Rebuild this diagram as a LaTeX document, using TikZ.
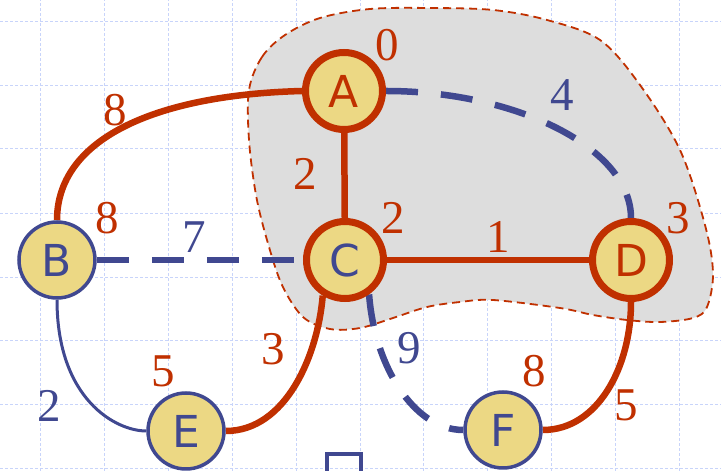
\documentclass[tikz,border=0pt]{standalone}
\usepackage{fontspec}
\newfontfamily\letfont{DejaVu Sans}
\newfontfamily\numfont{Liberation Serif}
\definecolor{dred}{RGB}{192,48,0}
\definecolor{dblue}{RGB}{64,72,144}
\definecolor{nfill}{RGB}{236,216,132}
\definecolor{cloudgray}{RGB}{221,221,221}
\definecolor{gridblue}{RGB}{200,212,250}
\pgfdeclarelayer{bg}
\pgfdeclarelayer{edgelayer}
\pgfsetlayers{bg,edgelayer,main}
\tikzset{
  rnode/.style={circle, draw=dred, line width=7pt, fill=nfill, minimum size=77pt, inner sep=0pt, font=\letfont\fontsize{44}{44}\selectfont},
  bnode/.style={circle, draw=dblue, line width=3.5pt, fill=nfill, minimum size=76pt, inner sep=0pt, text=dblue, font=\letfont\fontsize{44}{44}\selectfont},
  lbl/.style={inner sep=0pt, font=\numfont\fontsize{47}{47}\selectfont},
  rl/.style={lbl, text=dred},
  bl/.style={lbl, text=dblue},
  redge/.style={draw=dred, line width=6.5pt},
  bdash/.style={draw=dblue, line width=6.5pt, dash pattern=on 32pt off 23pt},
  bthin/.style={draw=dblue, line width=3pt},
  gridline/.style={draw=gridblue, line width=0.8pt, dash pattern=on 3pt off 2pt},
  cloud/.style={fill=cloudgray, draw=dred, line width=1.8pt, dash pattern=on 8pt off 5pt}
}
\begin{document}
\begin{tikzpicture}[x=1pt,y=1pt]
\useasboundingbox (0,0) rectangle (721,471);
% nodes
\node[rnode, text=dred] (A) at (344,380) {A};
\node[bnode] (B) at (57,211) {B};
\node[rnode, text=dblue] (C) at (345,211) {C};
\node[rnode, text=dred] (D) at (631,211) {D};
\node[bnode] (E) at (186,40) {E};
\node[bnode] (F) at (503,41) {F};
% labels
\node[rl] (lAB) at (115,361) {8};
\node[rl] (lAC) at (305,297) {2};
\node[rl] (dB) at (107,253) {8};
\node[bl] (lBC) at (194,234) {7};
\node[rl] (dA) at (387,426) {0};
\node[bl] (lAD) at (562,376) {4};
\node[rl] (dC) at (393,253) {2};
\node[rl] (lCD) at (498,234) {1};
\node[rl] (dD) at (678,253) {3};
\node[rl] (lCE) at (273,122) {3};
\node[rl] (dE) at (163,100) {5};
\node[bl] (lBE) at (49,65) {2};
\node[bl] (lCF) at (409,123) {9};
\node[rl] (dF) at (534,100) {8};
\node[rl] (lDF) at (626,66) {5};
\begin{pgfonlayer}{bg}
  \foreach \gx in {40,104,168,232,296,360,423,487,551,615,679}
    \draw[gridline] (\gx,0) -- (\gx,471);
  \foreach \gy in {3,67,131,194,258,323,386,450}
    \draw[gridline] (0,\gy) -- (721,\gy);
  \draw[cloud] plot[smooth cycle, tension=0.55] coordinates {
    (249,381) (262,414) (285,436) (320,453) (370,462) (430,463) (493,461)
    (547,451) (600,431) (640,386) (680,321) (705,246) (713,198) (707,164)
    (693,153) (660,149) (627,151) (593,156) (560,163) (493,171) (460,169)
    (427,164) (393,153) (360,143) (330,142) (303,154) (282,186) (267,231)
    (256,276) (249,331)};
  \draw[dblue, line width=3.5pt] (327,0) -- (327,17) -- (361,17) -- (361,0);
\end{pgfonlayer}
\begin{pgfonlayer}{edgelayer}
  \draw[redge] (A.west) .. controls +(-150,-4) and +(0,80) .. (B.north);
  \draw[redge] (A) -- (C);
  \draw[bdash] (A.east) .. controls +(130,0) and +(0,70) .. (D.north);
  \draw[bdash] (B.east) -- (C.west);
  \draw[redge] (C) -- (D);
  \draw[bthin] (B.south) .. controls +(0,-100) and +(-30,0) .. (E.west);
  \draw[redge] (C.-122) .. controls +(-5,-60) and +(60,0) .. (E.east);
  \draw[bdash] (C.-55) .. controls +(5,-70) and +(-50,0) .. (F.west);
  \draw[redge] (D.south) .. controls +(0,-65) and +(55,0) .. (F.east);
\end{pgfonlayer}
\end{tikzpicture}
\end{document}
